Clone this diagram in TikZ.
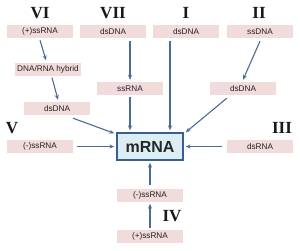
\documentclass[tikz,border=0pt]{standalone}
\usepackage{fontspec}
\setsansfont{Liberation Sans}
\setmainfont{Liberation Serif}
\usetikzlibrary{arrows.meta,calc}
\definecolor{pinkbox}{HTML}{F2DCDB}
\definecolor{mfill}{HTML}{DBEEF4}
\definecolor{mborder}{HTML}{3A5F8B}
\definecolor{arrowc}{HTML}{4B6C98}
\definecolor{txt}{HTML}{222222}
\tikzset{
  box/.style={fill=pinkbox, minimum width=66pt, minimum height=13pt, inner sep=0pt,
    text=txt, font=\sffamily\fontsize{8.2}{9}\selectfont},
  mbox/.style={fill=mfill, draw=mborder, line width=1.3pt, minimum width=66pt, minimum height=27pt,
    inner sep=0pt, font=\sffamily\bfseries\fontsize{16}{18}\selectfont, text=black!85},
  roman/.style={font=\bfseries\fontsize{17}{19}\selectfont, text=black!90},
  arr/.style={-{Stealth[length=5pt,width=4pt]}, line width=1.1pt, draw=arrowc}
}
\begin{document}
\begin{tikzpicture}[x=1pt,y=-1pt]
\useasboundingbox (0,0) rectangle (300,250);
% Roman numerals
\node[roman] (r6) at (40,13) {VI};
\node[roman] (r7) at (113,13) {VII};
\node[roman] (r1) at (186,13) {I};
\node[roman] (r2) at (259,13) {II};
\node[roman] (r5) at (12,128) {V};
\node[roman] (r3) at (282,128) {III};
\node[roman] (r4) at (172,216) {IV};
% boxes
\node[box] (p6) at (40,31.5) {(+)ssRNA};
\node[box] (d7) at (113,31.5) {dsDNA};
\node[box] (d1) at (186,31.5) {dsDNA};
\node[box] (s2) at (260,31.5) {ssDNA};
\node[box] (hyb) at (48,69) {DNA/RNA hybrid};
\node[box] (d6) at (57,108.5) {dsDNA};
\node[box] (s7) at (130,88.5) {ssRNA};
\node[box] (d2) at (243,88.5) {dsDNA};
\node[box] (m5) at (40,146.5) {(-)ssRNA};
\node[box] (ds3) at (260,146.5) {dsRNA};
\node[mbox] (mrna) at (150,146.5) {mRNA};
\node[box] (m4) at (150,195) {(-)ssRNA};
\node[box] (p4) at (150,236.5) {(+)ssRNA};
% arrows
\draw[arr] ($(p6.south)+(0,2)$) -- ($(hyb.north)+(-2,-2)$);
\draw[arr] ($(hyb.south)+(4,2)$) -- ($(d6.north)+(1,-2)$);
\draw[arr] ($(d6.south)+(16,3)$) -- ($(mrna.north west)+(-2,1)$);
\draw[arr] ($(d7.south -| s7.north)+(0,3)$) -- ($(s7.north)+(0,-2)$);
\draw[arr] ($(s7.south)+(0,2)$) -- ($(s7.south |- mrna.north)+(0,-2)$);
\draw[arr] ($(d1.south)+(-16,3)$) -- ($(mrna.north)+(20,-2)$);
\draw[arr] ($(s2.south)+(0,3)$) -- ($(d2.north)+(0,-2)$);
\draw[arr] ($(d2.south west)+(17,3)$) -- ($(mrna.north east)+(2,0)$);
\draw[arr] ($(m5.east)+(4,0)$) -- ($(mrna.west)+(-2,0)$);
\draw[arr] ($(ds3.west)+(-5,0)$) -- ($(mrna.east)+(2,0)$);
\draw[arr] ($(m4.north)+(0,-3)$) -- ($(mrna.south)+(0,2)$);
\draw[arr] ($(p4.north)+(0,-2)$) -- ($(m4.south)+(0,2)$);
\end{tikzpicture}
\end{document}
